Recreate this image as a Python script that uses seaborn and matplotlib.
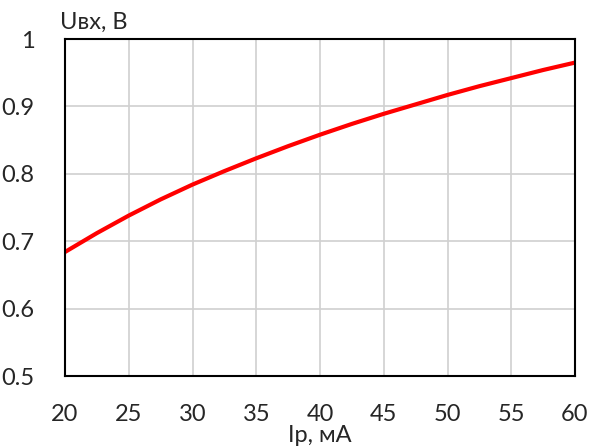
import numpy as np
import pandas as pd
import matplotlib
matplotlib.use("Agg")
import matplotlib.pyplot as plt
import seaborn as sns

# values
current_ma = [20, 22.5, 25, 27.5, 30, 32.5, 35, 37.5, 40, 42.5, 45,
              47.5, 50, 52.5, 55, 57.5, 60]
voltage_v = [0.684, 0.712, 0.738, 0.762, 0.784, 0.804, 0.823, 0.841,
             0.858, 0.874, 0.889, 0.903, 0.917, 0.930, 0.942, 0.954, 0.965]

x_ticks = [20, 25, 30, 35, 40, 45, 50, 55, 60]
y_ticks = [0.5, 0.6, 0.7, 0.8, 0.9, 1.0]
y_tick_labels = ["0.5", "0.6", "0.7", "0.8", "0.9", "1"]

df = pd.DataFrame({"I": current_ma, "U": voltage_v})

sns.set_style("white")
plt.rcParams['font.family'] = ['Lato', 'DejaVu Sans']

fig = plt.figure(figsize=(5.92, 4.48), dpi=100)
ax = fig.add_axes([65 / 592, 1 - 376 / 448, 510 / 592, 337 / 448])

sns.lineplot(data=df, x="I", y="U", ax=ax, color="#ff0000", linewidth=3)

ax.set_xlim(20, 60)
ax.set_ylim(0.5, 1.0)
ax.set_xticks(x_ticks)
ax.set_yticks(y_ticks)
ax.set_yticklabels(y_tick_labels)
ax.grid(True, color="#d0d0d0", linewidth=1.2)
ax.tick_params(axis="x", length=0, labelsize=17, pad=20)
ax.tick_params(axis="y", length=0, labelsize=17, pad=22)
for s in ax.spines.values():
    s.set_color("black")
    s.set_linewidth(1.5)

ax.set_xlabel("Iр, мА", fontsize=17, labelpad=0)
ax.set_ylabel("")
fig.text(60 / 592, 1 - 22 / 448, "Uвх, В", fontsize=17, va="center", ha="left")

fig.savefig("out.png", dpi=100)
